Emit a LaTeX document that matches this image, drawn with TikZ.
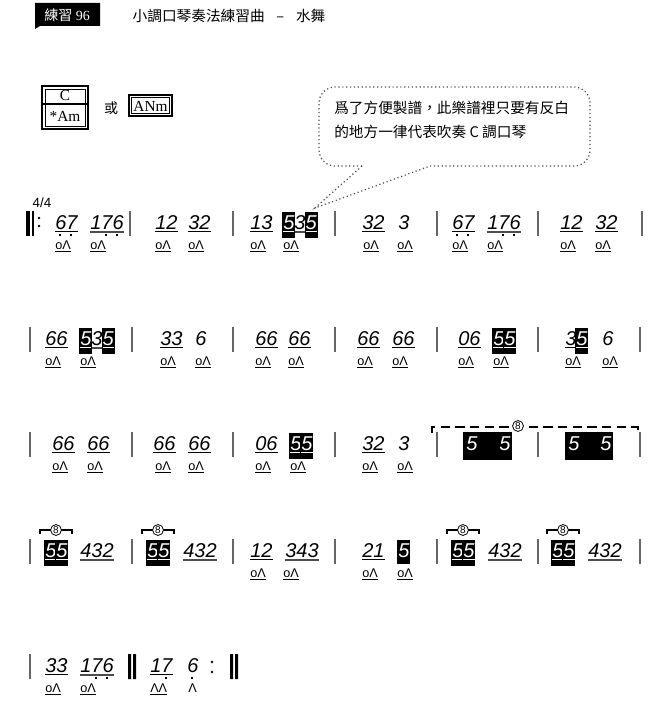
\documentclass[tikz,border=0pt]{standalone}
\usepackage{fontspec}
\setmainfont{Liberation Serif}
\newfontfamily\notefont{Liberation Sans}
\newfontfamily\cjk{Noto Sans CJK TC}
\usetikzlibrary{backgrounds}

% reversed note (white on black) with its beam
\newcommand{\hl}[1]{\setbox0\hbox{#1}\rlap{\kern-0.7pt\rule[-6.5pt]{\dimexpr\wd0+1.4pt\relax}{19.5pt}}\rlap{\color{white}\rule[-2.4pt]{\wd0}{0.8pt}}\textcolor{white}{#1}}
% reversed note, no beam
\newcommand{\hlq}[1]{\setbox0\hbox{#1}\rlap{\kern-0.7pt\rule[-5pt]{\dimexpr\wd0+1.4pt\relax}{18pt}}\textcolor{white}{#1}}
% low octave dot
\newcommand{\dn}[1]{\setbox0\hbox{#1}\rlap{\hbox to\wd0{\hss\rule[-5.4pt]{1.3pt}{1.3pt}\kern1.2pt\hss}}#1}

\tikzset{
  note/.style={anchor=base west, inner sep=0pt, font=\notefont\itshape\fontsize{15}{16}\selectfont},
  blow/.style={anchor=base west, inner sep=0pt, font=\notefont\fontsize{9.5}{11}\selectfont},
  beam/.style={line width=0.9pt},
  beam3/.style={line width=1.6pt, black!70},
  nobeam/.style={draw=none},
  blowline/.style={line width=0.8pt},
  barline/.style={line width=1.2pt, black!60},
  oct/.style={circle, draw, fill=white, line width=0.6pt, inner sep=0.5pt, font=\notefont\fontsize{7.5}{8}\selectfont},
  bubble/.style={dotted, line width=0.9pt, black!70},
  keyfont/.style={font=\fontsize{11.5}{13}\selectfont},
}

% one row of note groups: row, baseline, x/notes/beam
\newcommand{\notes}[3]{\foreach \x/\t/\s in {#3}{%
  \node[note] (r#1-\x) at (\x,#2) {\t};
  \begin{scope}[on background layer]
    \draw[\s] ([yshift=-2pt]r#1-\x.base west) -- ([yshift=-2pt]r#1-\x.base east);
  \end{scope}}}
% blow / draw marks
\newcommand{\blows}[3]{\foreach \x in {#3}{%
  \node[blow] (b#1-\x) at (\x,#2) {oΛ};
  \draw[blowline] ([yshift=-2.2pt]b#1-\x.base west) -- ([yshift=-2.2pt]b#1-\x.base east);}}
% bar lines
\newcommand{\bars}[2]{\foreach \x in {#2}{\draw[barline] (\x,#1-18) -- (\x,#1+7);}}

\begin{document}
\begin{tikzpicture}[x=0.75pt,y=-0.75pt]
\useasboundingbox (0,0) rectangle (666,724);

% heading
\fill (35,3) -- (100,3) -- (100,26) -- (40,26) -- (35,29) -- cycle;
\node[text=white, font=\fontsize{10.5}{12}\selectfont] (tag) at (67,15) {{\cjk 練習} 96};
\node[anchor=west, font=\cjk\fontsize{11}{12}\selectfont] (title) at (128,16) {小調口琴奏法練習曲\hspace{0.8em}–\hspace{0.8em}水舞};

% key
\draw[line width=1.4pt] (42,86) rectangle (88,129);
\draw[line width=0.5pt] (45,89) rectangle (85,126);
\draw[line width=1pt] (42,104) -- (88,104);
\node[keyfont] (keyC) at (65,95.5) {C};
\node[keyfont] (keyAm) at (65,116.5) {*Am};
\node[font=\cjk\fontsize{10.5}{12}\selectfont] (or) at (111,108) {或};
\draw[line width=1.4pt] (129,95) rectangle (172,116);
\draw[line width=0.5pt] (131.5,97.5) rectangle (169.5,113.5);
\node[keyfont] (keyANm) at (150.5,106) {ANm};

% note on reversed notes
\node[anchor=north west, inner sep=0pt, align=left, font=\cjk\fontsize{11}{18}\selectfont] (memo) at (334,101)
  {爲了方便製譜，此樂譜裡只要有反白\\的地方一律代表吹奏 C 調口琴};
\coordinate (tip) at (315,208);
\draw[bubble, rounded corners=12] (362,166) -- (319,166) -- (319,87) -- (590,87) -- (590,166) -- (430,166);
\draw[bubble] (362,166) -- (tip) -- (430,166);

% row 1
\node[font=\notefont\fontsize{10}{12}\selectfont] (meter) at (42,203) {4/4};
\fill (26,211) rectangle (30,236);
\draw[line width=0.8pt] (33,211) -- (33,236);
\fill (39,218) circle (1.3) (39,226) circle (1.3);
\notes{1}{229}{55/{\dn{6}\dn{7}}/beam, 90/{1\dn{7}\dn{6}}/beam3, 155/{12}/beam, 188/{32}/beam,
  250/{13}/beam, 283/{\hl{5}3\hl{5}}/beam3, 362/{32}/beam, 398/{3}/nobeam,
  452/{\dn{6}\dn{7}}/beam, 487/{1\dn{7}\dn{6}}/beam3, 560/{12}/beam, 595/{32}/beam}
\blows{1}{249}{55,90,155,188,250,283,363,397,452,487,560,595}
\bars{229}{130,233,335,437,538,642}

% row 2
\notes{2}{345}{45/{66}/beam, 80/{\hl{5}3\hl{5}}/beam3, 160/{33}/beam, 195/{6}/nobeam,
  255/{66}/beam, 288/{66}/beam, 357/{66}/beam, 392/{66}/beam,
  458/{06}/beam, 493/{\hl{5}\hl{5}}/beam, 565/{3\hl{5}}/beam, 602/{6}/nobeam}
\blows{2}{365}{45,80,160,195,255,288,357,392,458,493,565,602}
\bars{345}{30,132,233,335,437,538,640}

% row 3
\notes{3}{450}{52/{66}/beam, 87/{66}/beam, 153/{66}/beam, 188/{66}/beam,
  255/{06}/beam, 290/{\hl{5}\hl{5}}/beam, 362/{32}/beam, 398/{3}/nobeam}
\fill (463,432) rectangle (512,460);
\fill (565,432) rectangle (613,460);
\foreach \x in {466,499,568,600} \node[note, text=white] (r3-\x) at (\x,450) {5};
\draw[line width=0.9pt, dash pattern=on 7pt off 4pt] (432,433) -- (432,427) -- (638,427) -- (638,433);
\node[oct] (oct-r3) at (518,426) {8};
\blows{3}{470}{52,87,155,188,255,290,362,397}
\bars{450}{30,132,233,335,437,538,640}

% row 4
\notes{4}{557}{45/{\hl{5}\hl{5}}/beam, 80/{432}/beam3, 147/{\hl{5}\hl{5}}/beam, 183/{432}/beam3,
  250/{12}/beam, 285/{343}/beam3, 362/{21}/beam, 398/{\hlq{5}}/nobeam,
  452/{\hl{5}\hl{5}}/beam, 488/{432}/beam3, 552/{\hl{5}\hl{5}}/beam, 588/{432}/beam3}
\foreach \x in {45,147,452,552}{
  \draw[line width=0.8pt] (\x-5,534) -- (\x-5,530) -- (\x+27,530) -- (\x+27,534);
  \node[oct] (oct-\x) at (\x+11,530) {8};
}
\blows{4}{577}{250,283,362,397}
\bars{557}{30,132,233,335,437,538,640}

% row 5
\notes{5}{672}{45/{33}/beam, 80/{1\dn{7}\dn{6}}/beam3, 150/{1\dn{7}}/beam, 187/{\dn{6}}/nobeam}
\blows{5}{692}{45,80}
\node[blow] (b5-150) at (150,692) {ΛΛ};
\draw[blowline] ([yshift=-2.2pt]b5-150.base west) -- ([yshift=-2.2pt]b5-150.base east);
\node[blow] (b5-187) at (188,692) {Λ};
\bars{672}{30}
\fill (128,654) rectangle (131,679) (133,654) rectangle (136,679);
\fill (212,662) circle (1.3) (212,672) circle (1.3);
\fill (230,654) rectangle (233,679) (235,654) rectangle (238,679);
\end{tikzpicture}
\end{document}
